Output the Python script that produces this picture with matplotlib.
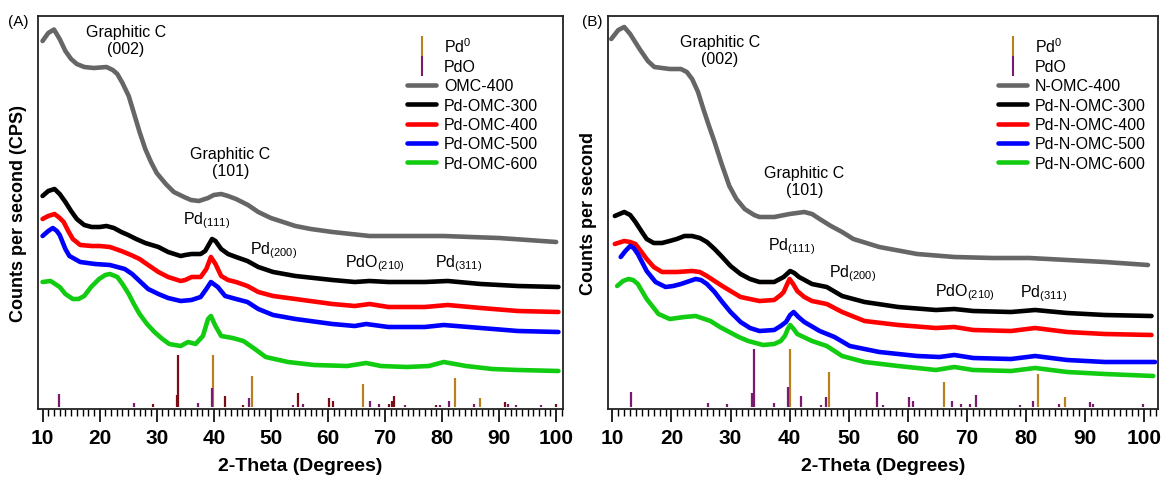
import matplotlib
matplotlib.use("Agg")
import matplotlib.pyplot as plt
from matplotlib.lines import Line2D
from matplotlib.ticker import MultipleLocator

plt.rcParams['font.family'] = ['Liberation Sans', 'DejaVu Sans']
plt.rcParams['mathtext.fontset'] = 'custom'
plt.rcParams['mathtext.rm'] = 'Liberation Sans'
plt.rcParams['mathtext.it'] = 'Liberation Sans:italic'
plt.rcParams['mathtext.bf'] = 'Liberation Sans:bold'

# ---------------- panel A data (2-theta, intensity in arbitrary counts) ----------------
a_omc400_x = [10.0, 11, 12, 13, 14, 15, 16, 17.3, 19, 21.2, 22.3, 23.1, 24, 25.1, 26, 27, 28, 29, 30,
              31.6, 33, 34.8, 36, 37.4, 39, 40, 41.3, 42.5, 43.9, 46, 47.8, 50, 54.3, 57, 60.8, 67.3,
              73.8, 80.3, 85, 90, 95, 100]
a_omc400_y = [368, 376, 379.5, 370, 358, 350, 345, 342, 341, 342, 339, 335, 326, 313, 296, 277, 260, 247,
              236, 225, 217, 212, 209, 208, 211, 214, 215, 213, 210, 204, 197, 191, 183, 180, 177, 173,
              173, 173, 172, 171, 169, 167]

a_pd300_x = [10, 11, 12.1, 13, 14, 15, 16, 17.3, 18.6, 20, 21.2, 22.5, 23.8, 25, 26.4, 28, 30.3, 32, 34.2,
             35, 36.1, 37.7, 38.5, 39, 39.7, 40.3, 41.3, 42.5, 43.9, 45.9, 47.8, 50.4, 54.3, 60.8, 64.7,
             67.3, 70.6, 77, 81, 86.8, 93.3, 100.4]
a_pd300_y = [213, 218, 220, 215, 207, 198, 190, 184, 182, 182, 183, 181, 177, 174, 170, 166, 162, 157, 153,
             154, 155, 155, 158, 163, 170, 168, 160, 155, 152, 148, 142, 137, 133, 129, 127, 128, 127,
             127, 128, 125, 123, 122]

a_pd400_x = [10, 11, 12.1, 13, 13.7, 14.5, 15.3, 16.6, 18.6, 20, 21.8, 23.8, 25.5, 27, 28.5, 30.3, 32,
             34.2, 35, 36.1, 37.7, 38.7, 39.5, 40.3, 41.3, 42.5, 43.9, 45.9, 47.8, 50.4, 54.3, 60.8,
             64.7, 67.3, 70.6, 77, 81, 86.8, 93.3, 100.4]
a_pd400_y = [190, 193, 195, 191, 187, 178, 170, 164, 163, 163, 162, 158, 154, 150, 144, 137, 132, 128, 129,
             132, 132, 140, 152, 145, 133, 129, 127, 123, 117, 113, 110, 105, 103, 105, 102, 102, 104,
             101, 98, 97]

a_pd500_x = [10, 11, 11.8, 12.5, 13, 14, 14.7, 16.6, 19.2, 21.8, 24.4, 25.7, 27, 28.5, 30.3, 32, 34.2,
             36.1, 37.7, 38.7, 39.5, 40.7, 42, 43.9, 45.9, 47.8, 50.4, 54.3, 60.8, 64.7, 66.7, 70.6, 77,
             80.3, 86.8, 93.3, 100.4]
a_pd500_y = [173, 178, 181, 178, 174, 160, 153, 147, 145, 144, 140, 135, 128, 120, 115, 111, 108, 109, 112,
             120, 127, 122, 113, 110, 107, 100, 94, 90, 85, 83, 85, 82, 82, 84, 81, 78, 77]

a_pd600_x = [10, 11.4, 13, 14, 15.3, 16.3, 17.3, 18.5, 19.9, 21, 21.8, 23.1, 24, 25.1, 26, 27, 28.3, 29.6,
             31, 32.2, 34.2, 35.5, 36.8, 38.1, 39, 39.5, 40.3, 41.3, 43.3, 45.2, 47.2, 49.1, 53, 57.6,
             63.4, 66.7, 69.3, 73.8, 77.7, 80.3, 84.2, 88.8, 93.3, 100.4]
a_pd600_y = [127, 128, 122, 115, 110, 110, 113, 122, 130, 134, 135, 132, 125, 115, 105, 95, 85, 77, 70, 65,
             63, 67, 65, 73, 90, 93, 83, 73, 71, 68, 60, 52, 47, 44, 43, 46, 43, 42, 43, 47, 43, 40, 39, 38]

# reference patterns, panel A
a_pd0_x = [39.95, 46.7, 66.1, 82.2, 86.7]
a_pd0_h = [54, 33, 25, 31, 11]
a_pdo_x = [12.93, 26.1, 37.3, 39.65, 46.15, 53.9, 55.7, 67.4, 68.95, 73.6, 79.65, 81.2, 85.6, 91.5, 92.9, 97.4]
a_pdo_h = [15, 6, 6, 21, 11, 4, 5, 8, 5, 4, 4, 8, 5, 5, 4, 4]
a_pdo2_x = [29.3, 33.5, 33.8, 41.9, 45.2, 54.8, 60.2, 60.9, 70.65, 71.3, 71.5, 78.95, 90.95, 99.9]
a_pdo2_h = [5, 14, 54, 13, 4, 16, 11, 8, 5, 8, 13, 4, 7, 5]

# ---------------- panel B data ----------------
b_omc400_x = [9.8, 11, 12, 13, 14.6, 16, 17.1, 19.7, 21.6, 22.6, 23.5, 24.5, 25.4, 26.3, 27.3, 28.5, 29.8,
              31, 32.4, 34, 34.9, 37.4, 40, 42.5, 43.8, 45.1, 47, 48.9, 50.8, 55.2, 61.6, 67.9, 74.3,
              80.6, 87, 93.4, 100.7]
b_omc400_y = [370, 379, 382, 375, 360, 348, 342, 340, 340, 337, 330, 317, 300, 284, 267, 245, 223, 210, 200,
              194, 192, 192, 195, 197, 195, 190, 183, 177, 170, 162, 155, 152, 151, 151, 149, 147, 144]

b_pd300_x = [10.4, 12, 13, 13.9, 15, 15.8, 17, 18.4, 19.7, 20.9, 22.2, 23.5, 24.8, 26, 27.3, 28.6, 30,
             31.7, 33.3, 34.9, 37.4, 39, 40.1, 40.8, 41.6, 43.8, 46.3, 48.9, 52.7, 58.4, 64.8, 67.9,
             71.1, 77.5, 81.6, 87, 93.4, 101.3]
b_pd300_y = [193, 197, 194, 187, 177, 170, 166, 166, 168, 170, 173, 173, 171, 167, 160, 152, 143, 135, 130,
             127, 127, 132, 138, 136, 132, 125, 122, 113, 107, 102, 99, 100, 98, 97, 99, 96, 94, 93]

b_pd400_x = [10.4, 12, 13, 13.9, 14.8, 15.8, 17, 18.4, 20.9, 23.5, 24.8, 26, 27.3, 28.6, 30, 31.7, 34.9,
             37.4, 38.5, 39, 39.6, 40, 40.6, 41.3, 42.5, 43.8, 46.3, 48.9, 52.7, 58.4, 64.8, 67.9, 71.1,
             77.5, 81.6, 87, 93.4, 101.3]
b_pd400_y = [165, 168, 167, 165, 158, 150, 142, 137, 137, 138, 137, 133, 128, 123, 118, 112, 108, 109, 114,
             117, 125, 130, 125, 118, 112, 108, 105, 97, 88, 84, 81, 82, 79, 78, 81, 77, 75, 74]

b_pd500_x = [11.4, 12.2, 13, 13.6, 14.3, 15.8, 17.3, 19, 20.3, 21.6, 24.1, 25, 26, 27.3, 28.6, 30, 31.7,
             33.3, 34.9, 37.4, 38.5, 39.4, 40.1, 40.7, 41.5, 42.5, 45.1, 47.6, 50.2, 55.2, 61.6, 65.4,
             67.9, 71.1, 77.5, 81.6, 87, 93.4, 101.9]
b_pd500_y = [152, 158, 163, 161, 155, 138, 127, 122, 123, 125, 130, 129, 125, 117, 107, 97, 87, 81, 78, 79,
             83, 87, 94, 97, 92, 87, 78, 72, 63, 57, 53, 52, 54, 51, 50, 53, 49, 47, 47]

b_pd600_x = [10.8, 11.8, 12.7, 13.5, 14.3, 15.8, 17.8, 19.7, 22.2, 24.1, 26.6, 28.2, 29.8, 31.4, 33, 35.5,
             37.4, 38.5, 39.2, 39.7, 40.1, 40.7, 41.3, 43.8, 46.3, 48.9, 52.7, 58.4, 64.8, 67.9, 71.1,
             77.5, 81.6, 87, 93.4, 101.6]
b_pd600_y = [123, 128, 130, 129, 125, 110, 95, 90, 92, 93, 88, 82, 77, 72, 68, 64, 65, 68, 73, 80, 84, 80,
             75, 68, 63, 53, 47, 43, 39, 42, 39, 38, 41, 37, 35, 33]

b_pd0_x = [40.07, 46.76, 66.15, 82.1, 86.7]
b_pd0_h = [60, 37, 27, 35, 12]
b_pdo_x = [13.15, 26.2, 29.4, 33.65, 33.95, 37.4, 39.8, 42.0, 45.25, 46.25, 54.85, 55.75, 60.25, 60.9,
           67.45, 68.97, 70.6, 71.5, 78.97, 81.2, 85.65, 90.9, 91.45, 99.9]
b_pdo_h = [17, 6, 5, 16, 60, 6, 22, 13, 4, 12, 17, 4, 12, 8, 8, 5, 5, 14, 4, 8, 5, 7, 5, 5]

a_names = ['OMC-400', 'Pd-OMC-300', 'Pd-OMC-400', 'Pd-OMC-500', 'Pd-OMC-600']
b_names = ['N-OMC-400', 'Pd-N-OMC-300', 'Pd-N-OMC-400', 'Pd-N-OMC-500', 'Pd-N-OMC-600']
colors = ['#666666', '#000000', '#ff0000', '#0000ff', '#11cc11']
gold = '#b8801e'
purple = '#7a1a6c'
maroon = '#7a0c18'

W, H = 1166, 481
fig = plt.figure(figsize=(W / 100, H / 100), dpi=100)
ax_a = fig.add_axes([38 / W, 71 / H, (563 - 38) / W, (410 - 17) / H])
ax_b = fig.add_axes([608 / W, 71 / H, (1158 - 608) / W, (410 - 17) / H])


def setup(ax, xlim, ylabel):
    ax.set_xlim(*xlim)
    ax.set_ylim(0, 393)
    ax.set_yticks([])
    ax.xaxis.set_major_locator(MultipleLocator(10))
    ax.xaxis.set_minor_locator(MultipleLocator(1))
    ax.tick_params(axis='x', which='major', direction='out', length=9, width=1.2,
                   labelsize=15, pad=5)
    ax.tick_params(axis='x', which='minor', direction='out', length=5, width=1.0)
    for lab in ax.get_xticklabels():
        lab.set_fontweight('bold')
    for sp in ax.spines.values():
        sp.set_linewidth(1.3)
        sp.set_color('#222222')
    ax.set_xlabel('2-Theta (Degrees)', fontsize=14, fontweight='bold', labelpad=7)
    ax.set_ylabel(ylabel, fontsize=13, fontweight='bold', labelpad=8)


def draw(ax, series, names, sticks):
    for (x, y), c, n in zip(series, colors, names):
        ax.plot(x, y, color=c, lw=3.3, label=n, solid_capstyle='round', solid_joinstyle='round')
    for x, h, c in sticks:
        ax.vlines(x, 2, h, color=c, lw=1.6)
    handles, labels = ax.get_legend_handles_labels()
    extra = [Line2D([], [], color=gold, marker='|', ls='None', markersize=14, mew=1.5),
             Line2D([], [], color=purple, marker='|', ls='None', markersize=14, mew=1.5)]
    return extra + handles, [r'Pd$^{0}$', 'PdO'] + labels


# panel A
draw_series_a = [(a_omc400_x, a_omc400_y), (a_pd300_x, a_pd300_y), (a_pd400_x, a_pd400_y),
                 (a_pd500_x, a_pd500_y), (a_pd600_x, a_pd600_y)]
hs, ls = draw(ax_a, draw_series_a, a_names,
              [(a_pd0_x, a_pd0_h, gold), (a_pdo_x, a_pdo_h, purple), (a_pdo2_x, a_pdo2_h, maroon)])
setup(ax_a, (9.2, 101.2), 'Counts per second (CPS)')
ax_a.legend(hs, ls, loc='upper right', bbox_to_anchor=(0.965, 0.965), frameon=False,
            fontsize=11.5, handlelength=1.8, handletextpad=0.5, labelspacing=0.27, numpoints=1,
            borderaxespad=0)

ax_a.text(24.6, 369, 'Graphitic C\n(002)', ha='center', va='center', fontsize=11.5, linespacing=1.15)
ax_a.text(42.9, 247, 'Graphitic C\n(101)', ha='center', va='center', fontsize=11.5, linespacing=1.15)
ax_a.text(34.6, 186, r'Pd$_{(111)}$', fontsize=11.5)
ax_a.text(46.3, 156, r'Pd$_{(200)}$', fontsize=11.5)
ax_a.text(63.0, 143, r'PdO$_{(210)}$', fontsize=11.5)
ax_a.text(78.7, 143, r'Pd$_{(311)}$', fontsize=11.5)

# panel B
draw_series_b = [(b_omc400_x, b_omc400_y), (b_pd300_x, b_pd300_y), (b_pd400_x, b_pd400_y),
                 (b_pd500_x, b_pd500_y), (b_pd600_x, b_pd600_y)]
hs, ls = draw(ax_b, draw_series_b, b_names,
              [(b_pd0_x, b_pd0_h, gold), (b_pdo_x, b_pdo_h, purple)])
setup(ax_b, (9.25, 102.4), 'Counts per second')
ax_b.legend(hs, ls, loc='upper right', bbox_to_anchor=(0.99, 0.965), frameon=False,
            fontsize=11.5, handlelength=1.8, handletextpad=0.5, labelspacing=0.27, numpoints=1,
            borderaxespad=0)

ax_b.text(28.2, 359, 'Graphitic C\n(002)', ha='center', va='center', fontsize=11.5, linespacing=1.15)
ax_b.text(42.5, 228, 'Graphitic C\n(101)', ha='center', va='center', fontsize=11.5, linespacing=1.15)
ax_b.text(36.3, 160, r'Pd$_{(111)}$', fontsize=11.5)
ax_b.text(46.7, 133, r'Pd$_{(200)}$', fontsize=11.5)
ax_b.text(64.6, 114, r'PdO$_{(210)}$', fontsize=11.5)
ax_b.text(79.1, 113, r'Pd$_{(311)}$', fontsize=11.5)

fig.text(8 / W, 1 - 22 / H, '(A)', fontsize=11, va='center')
fig.text(582 / W, 1 - 22 / H, '(B)', fontsize=11, va='center')

fig.savefig('out.png', dpi=100)
